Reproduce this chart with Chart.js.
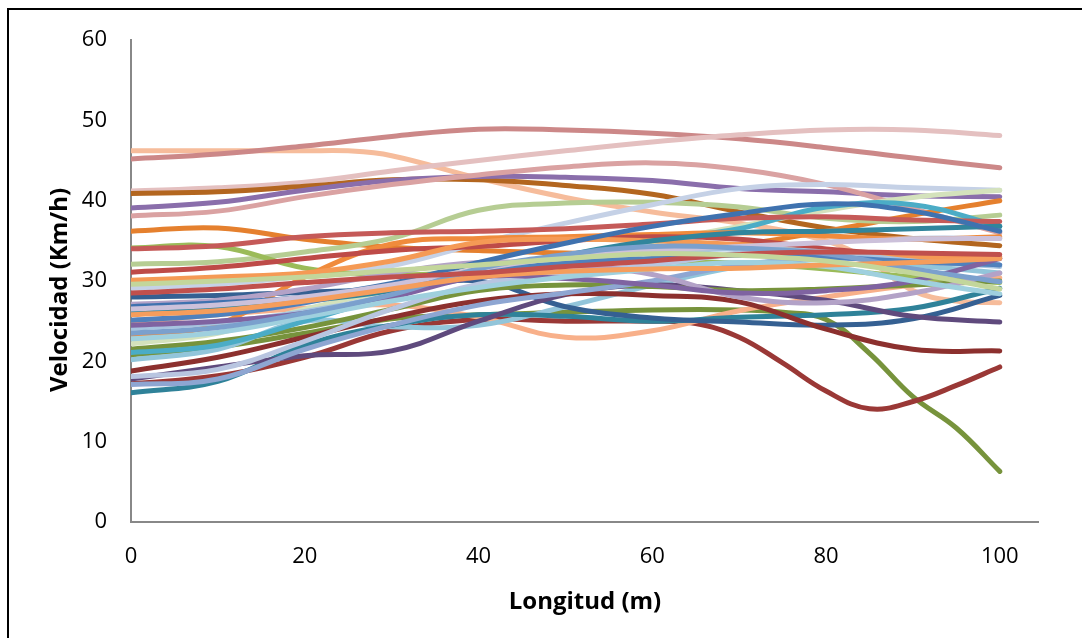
<!DOCTYPE html>
<html>
<head>
<meta charset="utf-8">
<script src="https://cdn.jsdelivr.net/npm/chart.js@4.4.1/dist/chart.umd.min.js"></script>
<style>
    html, body { margin: 0; padding: 0; background: #fff; overflow: hidden; }
    #wrap { position: relative; width: 1082px; height: 638px; }
    #frame { position: absolute; left: 7px; top: 8px; width: 1100px; height: 700px; border-top: 2px solid #000; border-left: 2px solid #000; }
    canvas { position: absolute; left: 0; top: 0; }
    .ttl { position: absolute; font-family: "Open Sans", sans-serif; font-weight: bold; font-size: 24px; line-height: 30px; color: #000; white-space: nowrap; }
    #xTitle { left: 585px; top: 585px; transform: translateX(-50%); }
    #yTitle { left: 58px; top: 290px; transform: translate(-50%, -50%) rotate(-90deg); }
</style>
</head>
<body>
<div id="wrap">
    <canvas id="chart" width="1082" height="638"></canvas>
    <div id="frame"></div>
    <div class="ttl" id="xTitle">Longitud (m)</div>
    <div class="ttl" id="yTitle">Velocidad (Km/h)</div>
</div>
<script>
// Longitudes (m) : la plupart des séries sont relevées tous les 10 m
const X10 = [0, 10, 20, 30, 40, 50, 60, 70, 80, 90, 100];
const X_PEACH = [0, 10, 20, 25, 30, 40, 50, 60, 70, 80, 85, 90, 95, 100];
const X_DIP = [0, 10, 20, 30, 40, 50, 60, 65, 70, 75, 80, 85, 90, 95, 100];
const X_DROP = [0, 10, 20, 30, 40, 50, 60, 70, 75, 80, 85, 90, 95, 100];
const X_TICKS = [0, 20, 40, 60, 80, 100];
const Y_TICKS = [0, 10, 20, 30, 40, 50, 60];

// Vitesses (km/h), une liste par passage
const v01 = [46.2, 46.2, 46.2, 46.2, 45.6, 42.8, 40.4, 38.6, 37.2, 35.0, 32.5, 28.8, 27.5, 27.3];
const v02 = [45.2, 45.8, 46.8, 48.0, 48.9, 48.8, 48.4, 47.7, 46.6, 45.3, 44.1];
const v03 = [41.2, 41.6, 42.3, 43.7, 45.0, 46.2, 47.3, 48.2, 48.8, 48.8, 48.1];
const v04 = [40.9, 41.1, 41.8, 42.6, 42.6, 41.9, 40.8, 38.6, 36.6, 35.3, 34.4];
const v05 = [39.1, 39.8, 41.3, 42.5, 43.0, 42.9, 42.5, 41.5, 41.1, 40.6, 40.5];
const v06 = [38.1, 38.7, 40.5, 42.0, 43.2, 44.2, 44.7, 43.9, 42.0, 39.0, 36.0];
const v07 = [36.2, 36.6, 35.2, 34.2, 33.8, 33.5, 33.5, 34.5, 36.2, 38.2, 40.0];
const v08 = [34.1, 34.3, 31.6, 30.8, 31.2, 32.0, 32.5, 32.2, 31.5, 30.5, 29.8];
const v09 = [32.1, 32.4, 33.6, 35.3, 38.8, 39.7, 39.8, 39.2, 37.8, 37.4, 38.2];
const v10 = [34.0, 34.4, 35.5, 36.0, 36.2, 36.5, 37.1, 37.8, 38.0, 37.6, 37.4];
const v11 = [31.1, 31.7, 32.8, 33.8, 34.3, 35.0, 35.5, 35.2, 34.0, 33.2, 32.8];
const v12 = [30.1, 30.5, 31.0, 32.5, 34.8, 35.2, 35.0, 34.5, 33.5, 33.0, 33.0];
const v13 = [29.1, 29.6, 30.6, 31.9, 34.7, 37.2, 39.5, 41.5, 42.0, 41.6, 41.3];
const v14 = [28.0, 28.2, 28.6, 29.0, 30.0, 26.8, 25.4, 24.9, 24.5, 25.3, 28.2];
const v15 = [27.1, 27.6, 29.0, 31.0, 32.3, 32.0, 30.8, 28.0, 27.3, 28.5, 31.0];
const v16 = [26.1, 26.7, 27.5, 28.8, 31.0, 33.2, 35.0, 36.0, 36.2, 36.5, 36.8];
const v17 = [25.1, 25.8, 27.3, 29.5, 31.2, 32.2, 32.8, 33.2, 33.0, 32.4, 32.0];
const v18 = [24.1, 24.8, 26.2, 28.2, 30.8, 32.5, 33.5, 34.0, 33.6, 32.5, 31.8];
const v19 = [23.2, 24.6, 30.5, 34.6, 35.3, 35.5, 35.8, 36.0, 35.6, 35.2, 35.5];
const v20 = [22.2, 23.5, 26.5, 28.8, 30.5, 32.5, 34.8, 36.8, 38.8, 40.4, 41.3];
const v21 = [21.1, 22.0, 25.0, 28.2, 31.0, 33.0, 35.0, 36.5, 39.2, 39.5, 36.8];
const v22 = [20.2, 21.5, 25.0, 24.3, 24.5, 26.8, 29.5, 31.8, 33.0, 32.0, 31.0];
const v23 = [18.1, 19.0, 22.5, 26.5, 29.6, 31.0, 32.0, 33.5, 34.8, 35.3, 35.3];
const v24 = [17.1, 17.8, 21.5, 24.5, 27.0, 28.5, 30.0, 32.0, 32.8, 32.5, 32.0];
const v25 = [16.1, 17.5, 22.0, 24.5, 25.8, 25.6, 25.0, 25.5, 25.8, 26.6, 29.1];
const v26 = [17.2, 18.2, 20.5, 23.8, 25.2, 25.0, 25.0, 24.7, 23.0, 19.8, 16.3, 14.1, 15.0, 17.0, 19.3];
const v27 = [20.8, 21.8, 23.5, 25.3, 25.8, 26.1, 26.4, 26.4, 26.1, 25.2, 21.0, 15.6, 11.7, 6.3];
const v28 = [18.8, 20.5, 23.0, 25.5, 27.5, 28.4, 28.2, 27.4, 24.0, 21.5, 21.3];
const v29 = [17.8, 19.3, 20.7, 21.3, 25.0, 28.3, 29.5, 28.8, 27.6, 25.6, 24.9];
const v30 = [24.5, 25.0, 26.0, 28.0, 30.5, 30.3, 29.5, 28.5, 28.8, 30.0, 32.8];
const v31 = [26.5, 27.0, 28.0, 29.5, 31.5, 33.0, 33.8, 34.3, 34.8, 35.2, 35.3];
const v32 = [26.8, 27.3, 28.0, 29.7, 32.3, 34.7, 36.8, 38.4, 39.6, 38.7, 36.2];
const v33 = [22.8, 23.6, 25.5, 27.5, 29.2, 30.5, 31.5, 32.3, 31.8, 30.0, 28.4];
const v34 = [24.8, 25.8, 26.6, 27.0, 25.5, 23.0, 23.8, 26.3, 28.0, 29.5, 30.4];
const v35 = [25.8, 26.3, 27.5, 29.0, 30.5, 31.2, 31.5, 31.6, 32.0, 32.3, 32.8];
const v36 = [23.5, 24.2, 26.0, 28.3, 31.5, 33.3, 34.3, 34.1, 33.4, 31.5, 29.9];
const v37 = [28.5, 29.0, 29.8, 30.5, 31.0, 31.8, 32.5, 33.3, 33.6, 33.5, 33.3];
const v38 = [29.6, 30.0, 30.5, 31.3, 32.0, 32.8, 33.4, 33.2, 32.5, 31.0, 29.0];
const v39 = [21.5, 22.5, 24.2, 26.5, 28.8, 29.5, 29.3, 28.8, 29.0, 29.5, 30.0];

// Couleurs (dans l'ordre de tracé)
const series = [
    [X10, v38, '#C3D69B'], [X10, v37, '#C0504D'], [X10, v35, '#F59D5C'], [X10, v36, '#7BA0CD'],
    [X10, v33, '#9FD0DE'], [X10, v31, '#CCC1DA'], [X10, v30, '#7F63A1'], [X10, v32, '#3F72AF'],
    [X10, v17, '#4F81BD'], [X10, v18, '#A7C4DF'], [X10, v16, '#31859C'], [X10, v15, '#B3A2C7'],
    [X10, v12, '#F59A55'], [X10, v11, '#BE4B48'], [X10, v10, '#C55A58'], [X10, v19, '#F08B3C'],
    [X10, v21, '#4BACC6'], [X10, v23, '#B8C5E0'], [X10, v24, '#8EA6D2'], [X10, v39, '#77933C'],
    [X10, v28, '#8C302E'], [X10, v29, '#5F4A7D'], [X10, v14, '#356092'], [X10, v25, '#2F8299'],
    [X10, v22, '#92C5DA'], [X10, v08, '#9BBB59'], [X10, v20, '#D4E2BC'], [X10, v13, '#C5D1E6'],
    [X10, v09, '#B6CD93'], [X10, v07, '#E5802E'], [X10, v06, '#DAA2A2'], [X10, v05, '#8A6EAB'],
    [X10, v04, '#B3661F'], [X10, v03, '#E4C0C0'], [X10, v02, '#CC8888'], [X_PEACH, v01, '#F6BC9B'],
    [X10, v34, '#F8B08A'], [X_DIP, v26, '#9A3836'], [X_DROP, v27, '#77933C']
];

const datasets = series.map(([xs, ys, color]) => ({
    data: xs.map((x, i) => ({ x: x, y: ys[i] })),
    borderColor: color,
    backgroundColor: color,
    fill: false
}));

const tickFont = { family: '"Open Sans", sans-serif', size: 22 };

new Chart(document.getElementById('chart'), {
    type: 'line',
    data: { datasets: datasets },
    options: {
        responsive: false,
        animation: false,
        layout: { padding: { top: 40, right: 44, left: 0, bottom: 0 } },
        plugins: { legend: { display: false }, tooltip: { enabled: false } },
        elements: {
            point: { radius: 0 },
            line: { borderWidth: 5, tension: 0.4, borderCapStyle: 'round', borderJoinStyle: 'round' }
        },
        scales: {
            x: {
                type: 'linear', min: 0, max: 104.4,
                afterBuildTicks: s => { s.ticks = X_TICKS.map(v => ({ value: v })); },
                afterFit: s => { s.height = 116; },
                grid: { display: false, drawTicks: false },
                border: { display: true, color: '#888888', width: 2 },
                ticks: { color: '#000', font: tickFont, padding: 22, maxRotation: 0 }
            },
            y: {
                type: 'linear', min: 0, max: 60,
                afterBuildTicks: s => { s.ticks = Y_TICKS.map(v => ({ value: v })); },
                afterFit: s => { s.width = 131; },
                grid: { display: false, drawTicks: false },
                border: { display: true, color: '#888888', width: 2 },
                ticks: { color: '#000', font: tickFont, padding: 24 }
            }
        }
    }
});
</script>
</body>
</html>
